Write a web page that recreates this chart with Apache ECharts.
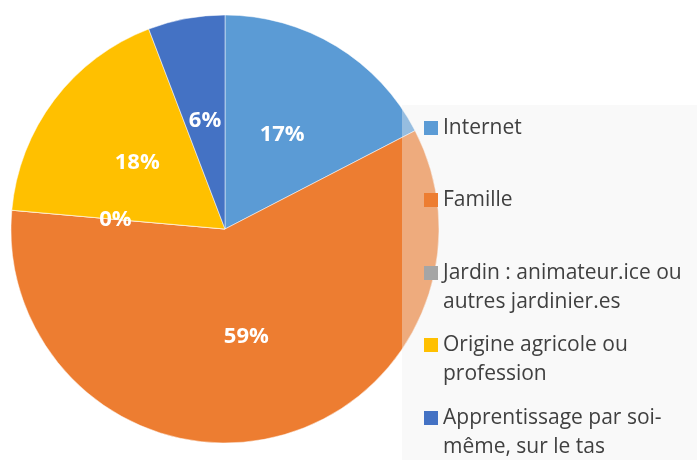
<!doctype html>
<html>
<head>
<meta charset="UTF-8">
<title></title>
<script src="https://cdn.jsdelivr.net/npm/echarts@6/dist/echarts.min.js"></script>
<style>
	html, body { margin: 0; padding: 0; background: #fff; }
	#main { width: 697px; height: 460px; }
</style>
</head>
<body>
<div id="main"></div>
<script type="text/javascript">
	// valeurs (en %)
	var categories = ['Internet', 'Famille', 'Jardin : animateur.ice ou autres jardinier.es', 'Origine agricole ou profession', 'Apprentissage par soi-même, sur le tas'];
	var values = [17.4, 59.0, 0, 17.8, 5.8];
	var legendLabels = ['Internet', 'Famille', 'Jardin : animateur.ice ou\nautres jardinier.es', 'Origine agricole ou\nprofession', 'Apprentissage par soi-\nmême, sur le tas'];
	var colors = ['#5B9BD5', '#ED7D31', '#A5A5A5', '#FFC000', '#4472C4'];

	var font = '"Open Sans", "Liberation Sans", sans-serif';
	// haut du carré de légende pour chaque entrée
	var markerTops = [121, 193, 266, 338, 411];

	var data = [];
	for (var i = 0; i < categories.length; i++) {
		data.push({ name: categories[i], value: values[i], itemStyle: { color: colors[i] } });
	}

	var legends = [];
	for (var j = 0; j < categories.length; j++) {
		var twoLines = legendLabels[j].indexOf('\n') >= 0;
		legends.push({
			left: 424,
			top: markerTops[j] - (twoLines ? 36.5 : 7.5),
			padding: 0,
			z: 20,
			orient: 'vertical',
			icon: 'rect',
			itemWidth: 14,
			itemHeight: 14,
			itemGap: 0,
			selectedMode: false,
			itemStyle: { borderWidth: 0 },
			data: [categories[j]],
			// ligne vide en tête : la 1re ligne reste centrée sur le carré
			formatter: (function (k, two) {
				return function () { return two ? '\n' + legendLabels[k] : legendLabels[k]; };
			})(j, twoLines),
			textStyle: {
				fontFamily: font,
				fontSize: 21,
				color: '#404040',
				lineHeight: 29
			}
		});
	}

	var myChart = echarts.init(document.getElementById('main'));
	var option = {
		animation: false,
		backgroundColor: '#ffffff',
		legend: legends,
		graphic: [{
			type: 'rect',
			z: 10,
			shape: { x: 402, y: 105, width: 295, height: 355 },
			style: { fill: 'rgba(240,240,240,0.4)' },
			silent: true
		}],
		series: [{
			type: 'pie',
			center: [225, 229],
			radius: 214,
			startAngle: 90,
			clockwise: true,
			z: 2,
			data: data,
			itemStyle: {
				borderColor: '#ffffff',
				borderWidth: 0.5
			},
			label: {
				show: true,
				position: 'inside',
				color: '#ffffff',
				fontFamily: font,
				fontSize: 22,
				fontWeight: 'bold',
				formatter: function (p) {
					return Math.round(p.percent) + '%';
				}
			},
			labelLine: { show: false },
			emphasis: { disabled: true }
		}]
	};
	myChart.setOption(option);
</script>
</body>
</html>
